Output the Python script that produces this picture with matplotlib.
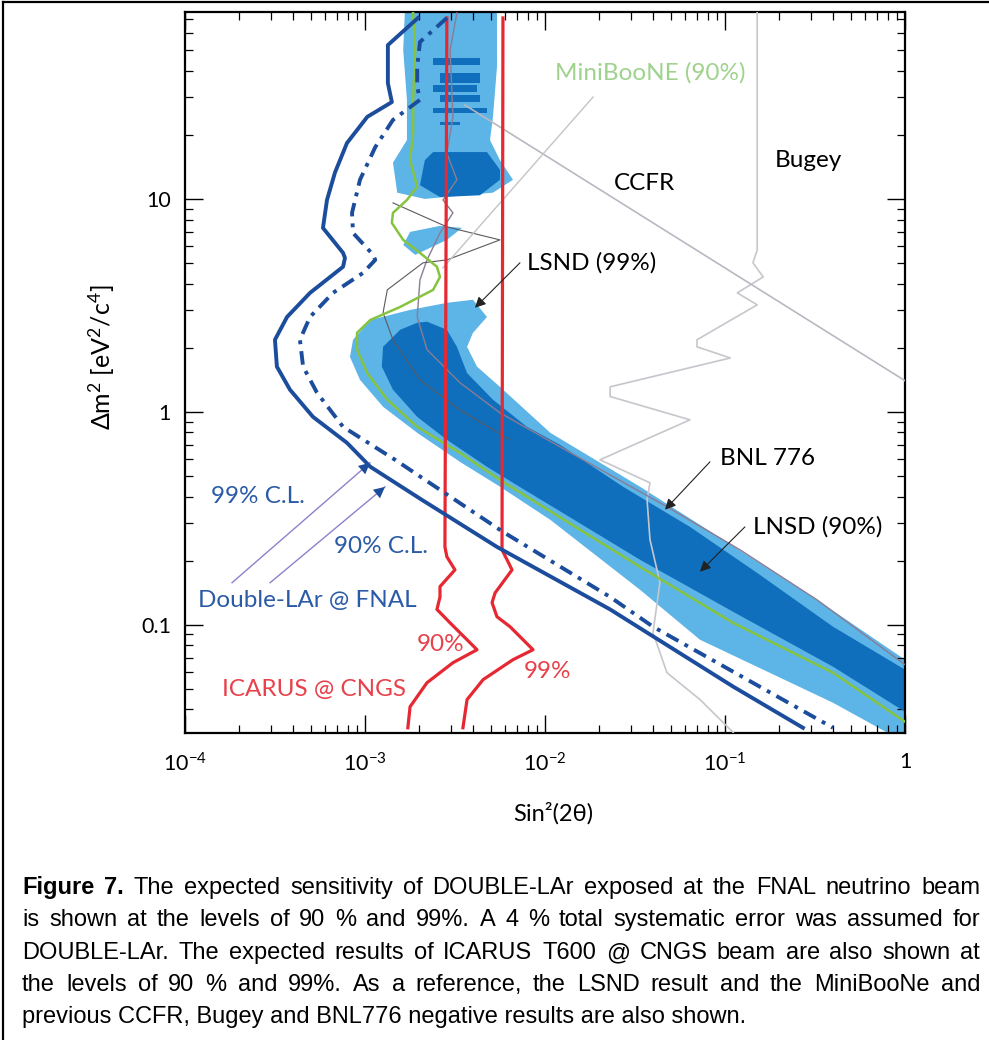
import matplotlib
matplotlib.use('Agg')
import matplotlib.pyplot as plt
from matplotlib.lines import Line2D

plt.rcParams['font.family'] = ['Lato', 'DejaVu Sans']
plt.rcParams['mathtext.fontset'] = 'custom'
plt.rcParams['mathtext.rm'] = 'Lato'
plt.rcParams['mathtext.it'] = 'Lato:italic'
plt.rcParams['mathtext.bf'] = 'Lato:bold'

# ---- data (sin^2(2theta), delta m^2 [eV^2/c^4]) ----
# Double-LAr @ FNAL, solid curve
dlar90_s2 = [1.97e-3, 1.34e-3, 1.34e-3, 1.41e-3, 1.03e-3, 7.94e-4, 6.81e-4, 6.15e-4, 5.84e-4,
             7.55e-4, 7.74e-4, 7.55e-4, 4.95e-4, 3.69e-4, 3.16e-4, 3.24e-4, 3.83e-4, 5.14e-4,
             7.94e-4, 1.07e-3, 2.07e-3, 5.41e-3, 2.30e-2, 0.111, 0.271]
dlar90_dm2 = [70.8, 52.8, 35.0, 28.5, 24.3, 18.3, 13.3, 9.89, 7.31, 5.58, 5.28, 4.80, 3.62,
              2.79, 2.18, 1.63, 1.27, 0.947, 0.715, 0.552, 0.386, 0.232, 0.118, 0.0512, 0.0328]
# Double-LAr @ FNAL, dashed curve
dlar99_s2 = [2.85e-3, 2.02e-3, 1.95e-3, 1.95e-3, 2.02e-3, 1.43e-3, 1.14e-3, 9.38e-4, 8.47e-4,
             8.58e-4, 1.11e-3, 1.14e-3, 9.75e-4, 6.64e-4, 4.95e-4, 4.35e-4, 4.53e-4, 5.41e-4,
             7.55e-4, 1.47e-3, 5.84e-3, 2.30e-2, 3.98e-2, 0.398]
dlar99_dm2 = [70.8, 54.6, 41.7, 33.6, 29.2, 23.5, 17.5, 12.3, 8.60, 6.92, 5.46, 5.17, 4.49,
              3.62, 2.79, 2.18, 1.63, 1.23, 0.850, 0.595, 0.273, 0.135, 0.0979, 0.0328]

# ICARUS @ CNGS
icarus90_s2 = [2.85e-3, 2.78e-3, 2.85e-3, 3.16e-3, 2.61e-3, 2.61e-3, 2.51e-3, 2.97e-3, 4.19e-3,
               3.08e-3, 2.21e-3, 1.78e-3, 1.73e-3]
icarus90_dm2 = [70.8, 0.232, 0.2085, 0.181, 0.151, 0.135, 0.118, 0.102, 0.0763, 0.0663, 0.0534,
                0.0412, 0.0328]
icarus99_s2 = [5.84e-3, 5.77e-3, 6.56e-3, 5.28e-3, 5.08e-3, 5.41e-3, 6.39e-3, 8.58e-3, 6.64e-3,
               4.53e-3, 3.69e-3, 3.50e-3]
icarus99_dm2 = [70.8, 0.225, 0.181, 0.141, 0.127, 0.109, 0.0979, 0.0763, 0.0685, 0.0552, 0.0445,
                0.0328]

# MiniBooNE (90%)
mb_s2 = [1.85e-3, 1.90e-3, 1.85e-3, 1.85e-3, 1.78e-3, 1.95e-3, 1.71e-3, 1.43e-3, 1.41e-3, 1.63e-3,
         2.02e-3, 2.51e-3, 2.61e-3, 2.39e-3, 1.57e-3, 1.07e-3, 9.03e-4, 9.03e-4, 1.03e-3, 1.33e-3,
         1.95e-3, 3.37e-3, 5.62e-3, 7.94e-3, 3.37e-2, 0.111, 0.398, 1.0]
mb_dm2 = [74.7, 50.1, 29.2, 20.4, 15.2, 11.4, 9.89, 8.60, 7.71, 6.42, 5.58, 4.80, 4.30, 3.74, 3.11,
          2.70, 2.35, 1.96, 1.52, 1.14, 0.850, 0.642, 0.479, 0.399, 0.187, 0.102, 0.0595, 0.0350]

# LSND 99% region (outline, low dm2 part) and high dm2 islands
lsnd99_s2 = [8.25e-4, 8.58e-4, 1.07e-3, 1.78e-3, 2.85e-3, 3.98e-3, 4.76e-3, 3.98e-3, 3.69e-3,
             4.19e-3, 5.62e-3, 1.07e-2, 3.37e-2, 9.75e-2, 0.324, 1.0, 1.0,
             0.398, 7.26e-2, 3.37e-2, 1.07e-2, 5.62e-3, 3.37e-3, 1.95e-3, 1.26e-3, 9.38e-4]
lsnd99_dm2 = [1.81, 2.18, 2.70, 3.01, 3.25, 3.36, 2.79, 2.35, 2.02, 1.63, 1.31, 0.797, 0.445,
              0.251, 0.131, 0.0685, 0.028,
              0.0430, 0.0850, 0.146, 0.311, 0.445, 0.582, 0.797, 1.056, 1.413]
lsnd99_top_s2 = [1.67e-3, 1.63e-3, 1.71e-3, 1.71e-3, 1.43e-3, 1.51e-3, 2.15e-3, 5.14e-3, 6.64e-3,
                 5.62e-3, 4.95e-3, 5.14e-3, 5.41e-3, 5.41e-3]
lsnd99_top_dm2 = [80, 50.1, 29.2, 18.9, 14.8, 10.7, 10.0, 10.7, 12.3, 15.2, 18.9, 24.3, 41.7, 80]
lsnd99_isl_s2 = [1.63e-3, 1.78e-3, 2.61e-3, 3.46e-3, 2.85e-3, 1.90e-3]
lsnd99_isl_dm2 = [6.08, 7.0, 7.47, 7.31, 6.42, 5.46]

# LSND 90% region
lsnd90_s2 = [1.95e-3, 2.21e-3, 2.85e-3, 3.24e-3, 3.69e-3, 5.14e-3, 7.94e-3, 1.21e-2, 2.71e-2,
             6.39e-2, 0.151, 0.398, 1.0, 1.0, 0.398, 0.111, 3.37e-2, 6.64e-3, 4.76e-3, 2.85e-3,
             1.95e-3, 1.43e-3, 1.24e-3, 1.26e-3, 1.57e-3]
lsnd90_dm2 = [2.62, 2.65, 2.43, 2.02, 1.52, 1.14, 0.850, 0.700, 0.445, 0.288, 0.175, 0.0979,
              0.0615, 0.0390, 0.0635, 0.115, 0.202, 0.464, 0.552, 0.739, 0.947, 1.27, 1.63,
              2.02, 2.43]
lsnd90_blob_s2 = [2.15e-3, 2.39e-3, 4.76e-3, 5.62e-3, 5.62e-3, 4.35e-3, 2.61e-3, 2.02e-3]
lsnd90_blob_dm2 = [15.2, 16.6, 16.6, 13.7, 12.3, 10.4, 10.2, 11.6]
# horizontal 90% stripes at high dm2
stripe_s2_lo = [2.39e-3, 2.61e-3, 2.39e-3, 2.61e-3, 2.39e-3, 2.61e-3]
stripe_s2_hi = [4.35e-3, 4.35e-3, 4.19e-3, 4.35e-3, 4.76e-3, 3.37e-3]
stripe_dm2_lo = [42.6, 35.0, 31.8, 28.5, 25.3, 22.3]
stripe_dm2_hi = [45.9, 39.0, 34.3, 30.8, 26.7, 23.0]

# other experiments (thin lines)
bnl_s2 = [3.24e-3, 2.97e-3, 3.08e-3, 2.85e-3, 3.24e-3, 2.71e-3, 3.08e-3, 2.61e-3, 2.21e-3,
          2.02e-3, 1.95e-3, 2.21e-3, 3.37e-3, 5.62e-3, 1.21e-2, 4.76e-2, 0.121, 0.324, 1.0]
bnl_dm2 = [74.7, 50.1, 24.3, 16.4, 12.3, 9.89, 8.60, 6.92, 5.17, 4.17, 2.79, 1.96, 1.37, 0.989,
           0.685, 0.358, 0.225, 0.131, 0.0649]
thin_s2 = [1.43e-3, 2.85e-3, 5.62e-3, 2.85e-3, 2.10e-3, 1.33e-3, 1.26e-3, 1.43e-3, 2.02e-3,
           3.37e-3, 6.39e-3]
thin_dm2 = [9.58, 7.39, 6.42, 5.17, 5.01, 3.74, 2.92, 2.18, 1.41, 1.02, 0.739]
ccfr_s2 = [3.59e-3, 1.0]
ccfr_dm2 = [27.6, 1.40]
bugey_s2 = [0.151, 0.151, 0.143, 0.163, 0.117, 0.151, 6.99e-2, 6.99e-2, 0.107, 2.30e-2, 2.30e-2,
            6.39e-2, 2.02e-2, 3.83e-2, 3.69e-2, 3.83e-2, 4.35e-2, 3.98e-2, 4.76e-2, 7.26e-2, 0.111]
bugey_dm2 = [80, 5.76, 5.01, 4.30, 3.62, 3.18, 2.18, 2.02, 1.79, 1.31, 1.18, 0.917, 0.595, 0.464,
             0.386, 0.251, 0.158, 0.0918, 0.0595, 0.0445, 0.0312]

xtick_vals = [1e-4, 1e-3, 1e-2, 1e-1, 1]
xtick_labels = ['$10^{-4}$', '$10^{-3}$', '$10^{-2}$', '$10^{-1}$', '1']
ytick_vals = [0.1, 1, 10]
ytick_labels = ['0.1', '1', '10']

caption_lines = [
    "Figure 7. The expected sensitivity of DOUBLE-LAr exposed at the FNAL neutrino beam",
    "is shown at the levels of 90 % and 99%. A 4 % total systematic error was assumed for",
    "DOUBLE-LAr. The expected results of ICARUS T600 @ CNGS beam are also shown at",
    "the levels of 90 % and 99%. As a reference, the LSND result and the MiniBooNe and",
    "previous CCFR, Bugey and BNL776 negative results are also shown.",
]

# ---- colours ----
c_light = '#5db4e6'
c_dark = '#0f6fbd'
c_blue = '#1c4c9c'
c_red = '#e62832'
c_green = '#86c440'

fig = plt.figure(figsize=(9.89, 10.4), dpi=100)
ax = fig.add_axes([185 / 989, 1 - 733 / 1040, 720 / 989, 721 / 1040])
ax.set_xscale('log')
ax.set_yscale('log')

# LSND regions
ax.fill(lsnd99_s2, lsnd99_dm2, color=c_light, lw=0, zorder=1)
ax.fill(lsnd99_top_s2, lsnd99_top_dm2, color=c_light, lw=0, zorder=1)
ax.fill(lsnd99_isl_s2, lsnd99_isl_dm2, color=c_light, lw=0, zorder=1)
ax.fill(lsnd90_s2, lsnd90_dm2, color=c_dark, lw=0, zorder=2)
ax.fill(lsnd90_blob_s2, lsnd90_blob_dm2, color=c_dark, lw=0, zorder=2)
for x0, x1, y0, y1 in zip(stripe_s2_lo, stripe_s2_hi, stripe_dm2_lo, stripe_dm2_hi):
    ax.fill([x0, x1, x1, x0], [y0, y0, y1, y1], color=c_dark, lw=0, zorder=2)

# thin reference lines
ax.plot(bugey_s2, bugey_dm2, color='#c6c6cc', lw=1.2, zorder=3)
ax.plot(ccfr_s2, ccfr_dm2, color='#b8b8c2', lw=1.2, zorder=3)
ax.plot(bnl_s2, bnl_dm2, color='#8a7c94', lw=1.0, zorder=3)
ax.plot(thin_s2, thin_dm2, color='#5a5a60', lw=0.8, zorder=3)

# main curves
ax.plot(mb_s2, mb_dm2, color=c_green, lw=1.8, zorder=4)
ax.plot(icarus90_s2, icarus90_dm2, color=c_red, lw=2.3, zorder=5)
ax.plot(icarus99_s2, icarus99_dm2, color=c_red, lw=2.3, zorder=5)
ax.plot(dlar90_s2, dlar90_dm2, color=c_blue, lw=2.8, zorder=6, solid_joinstyle='round')
ax.plot(dlar99_s2, dlar99_dm2, color=c_blue, lw=2.8, zorder=6,
        linestyle=(0, (3.5, 1.8, 1.0, 1.8)))

ax.set_xlim(1e-4, 1)
ax.set_ylim(0.031, 75.5)

# ---- labels and pointers ----
txt = dict(fontsize=17.5, zorder=8)
ax.text(3.83e-2, 39.0, 'MiniBooNE (90%)', color='#9fd28c', ha='center', va='center', **txt)
ax.plot([1.85e-2, 2.71e-3], [30.1, 4.74], color='#c4c4c4', lw=1.0, zorder=3)
ax.text(3.55e-2, 11.76, 'CCFR', color='black', ha='center', va='center', **txt)
ax.text(0.289, 15.2, 'Bugey', color='black', ha='center', va='center', **txt)
ax.text(7.94e-3, 5.01, 'LSND (99%)', color='black', ha='left', va='center', **txt)
ax.text(9.38e-2, 0.602, 'BNL 776', color='black', ha='left', va='center', **txt)
ax.text(0.143, 0.288, 'LNSD (90%)', color='black', ha='left', va='center', **txt)

arrow_k = dict(arrowstyle='-|>', color='#222222', lw=0.8, mutation_scale=16, shrinkA=0, shrinkB=0)
ax.annotate('', xy=(4.08e-3, 3.08), xytext=(7.26e-3, 5.01), arrowprops=arrow_k, zorder=8)
ax.annotate('', xy=(4.64e-2, 0.347), xytext=(8.25e-2, 0.582), arrowprops=arrow_k, zorder=8)
ax.annotate('', xy=(7.26e-2, 0.1774), xytext=(0.129, 0.288), arrowprops=arrow_k, zorder=8)

ax.text(2.54e-4, 0.399, '99% C.L.', color='#2b5aa6', ha='center', va='center', **txt)
ax.text(1.227e-3, 0.232, '90% C.L.', color='#2b5aa6', ha='center', va='center', **txt)
ax.text(4.76e-4, 0.1297, 'Double-LAr @ FNAL', color='#2b5aa6', ha='center', va='center', **txt)
for (x0, y0), (x1, y1) in [((1.825e-4, 0.1575), (1.066e-3, 0.576)),
                           ((2.97e-4, 0.1575), (1.291e-3, 0.444))]:
    ax.plot([x0, x1], [y0, y1], color='#8c82cc', lw=1.0, zorder=7)
    xs, ys = x0 ** 0.12 * x1 ** 0.88, y0 ** 0.12 * y1 ** 0.88
    ax.annotate('', xy=(x1, y1), xytext=(xs, ys), zorder=7,
                arrowprops=dict(arrowstyle='-|>', color=c_blue, lw=0, mutation_scale=20,
                                shrinkA=0, shrinkB=0))

ax.text(2.64e-3, 0.0805, '90%', color='#e8414b', ha='center', va='center', **txt)
ax.text(1.026e-2, 0.0602, '99%', color='#e8414b', ha='center', va='center', **txt)
ax.text(5.21e-4, 0.0495, 'ICARUS @ CNGS', color='#e8414b', ha='center', va='center', **txt)

# ---- axes styling ----
ax.set_xticks(xtick_vals)
ax.set_xticklabels(xtick_labels)
ax.set_yticks(ytick_vals)
ax.set_yticklabels(ytick_labels)
ax.tick_params(which='both', direction='in', top=True, right=True, colors='black')
ax.tick_params(which='major', length=13, width=1.0, labelsize=15.5, pad=14)
ax.tick_params(which='minor', length=6, width=0.9)
ax.tick_params(axis='y', which='major', pad=10)
for s in ax.spines.values():
    s.set_linewidth(1.6)
    s.set_color('black')

ax.set_xlabel('Sin²(2θ)', fontsize=17, va='center')
ax.xaxis.set_label_coords((553 - 185) / 720, -(813 - 733) / 721)
ax.set_ylabel('Δm$^2$ [eV$^2$/c$^4$]', fontsize=18, va='center')
ax.yaxis.set_label_coords(-(185 - 102) / 720, (733 - 357) / 721)

# ---- page frame ----
fig.add_artist(Line2D([3 / 989, 3 / 989], [0, 1 - 2 / 1040], transform=fig.transFigure,
                      color='black', lw=1.6))
fig.add_artist(Line2D([3 / 989, 1], [1 - 2 / 1040, 1 - 2 / 1040], transform=fig.transFigure,
                      color='black', lw=1.6))

# ---- justified caption ----
cap_font = ['Liberation Sans', 'DejaVu Sans']
cap_size = 17
x_left, x_right = 22 / 989, 980 / 989
baselines = [894, 926, 959, 991, 1023]
renderer = fig.canvas.get_renderer()
for i, (line, yb) in enumerate(zip(caption_lines, baselines)):
    y = 1 - yb / 1040
    words = line.split(' ')
    if i == len(caption_lines) - 1:
        t = fig.text(x_left, y, line, family=cap_font, fontsize=cap_size, va='baseline')
        continue
    objs = []
    for j, w in enumerate(words):
        bold = (i == 0 and j < 2)
        objs.append(fig.text(x_left, y, w, family=cap_font, fontsize=cap_size, va='baseline',
                             fontweight='bold' if bold else 'normal'))
    widths = [o.get_window_extent(renderer).width / fig.bbox.width for o in objs]
    gap = (x_right - x_left - sum(widths)) / (len(objs) - 1)
    x = x_left
    for o, w in zip(objs, widths):
        o.set_x(x)
        x += w + gap

fig.savefig('out.png', dpi=100)
